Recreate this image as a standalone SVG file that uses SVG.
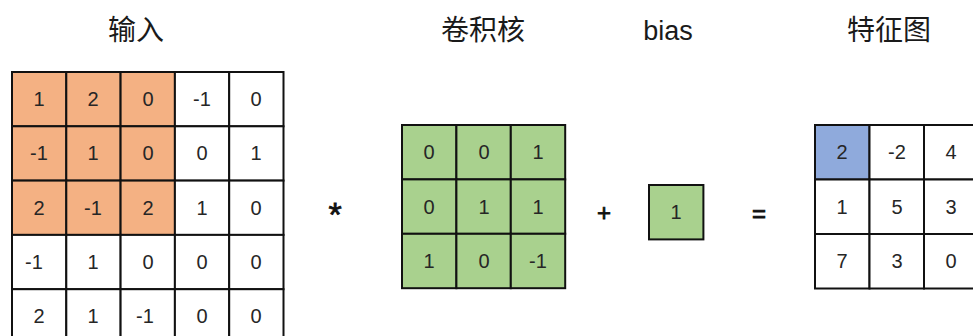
<svg xmlns="http://www.w3.org/2000/svg" width="973" height="336" viewBox="0 0 973 336">
  <style>
    .title { font-family: "Noto Sans CJK SC", "Liberation Sans", sans-serif; font-size: 28px; fill: #1a1a1a; text-anchor: middle; }
    .latin { font-family: "Liberation Sans", sans-serif; font-size: 27px; fill: #1a1a1a; text-anchor: middle; }
    .cell { stroke: #111; stroke-width: 2; }
    .w { fill: #ffffff; }
    .o { fill: #F4B183; }
    .g { fill: #A9D18E; }
    .b { fill: #8FAADC; }
    .num { font-family: "Liberation Sans", sans-serif; font-size: 20px; fill: #262626; text-anchor: middle; dominant-baseline: central; }
    .op { font-family: "Liberation Sans", sans-serif; fill: #111; stroke: #111; stroke-width: 0.8; text-anchor: middle; }
  </style>
  <rect width="973" height="336" fill="#ffffff"/>

  <!-- headings -->
  <text class="title" x="136" y="40">输入</text>
  <text class="title" x="483" y="40">卷积核</text>
  <text class="latin" x="668" y="40">bias</text>
  <text class="title" x="889" y="40">特征图</text>

  <!-- input matrix 5x5, top-left 3x3 window highlighted -->
  <g id="input">
    <rect class="cell o" x="12" y="72" width="54.3" height="54.3"/>
    <rect class="cell o" x="66.3" y="72" width="54.3" height="54.3"/>
    <rect class="cell o" x="120.6" y="72" width="54.3" height="54.3"/>
    <rect class="cell w" x="174.9" y="72" width="54.3" height="54.3"/>
    <rect class="cell w" x="229.2" y="72" width="54.3" height="54.3"/>
    <rect class="cell o" x="12" y="126.3" width="54.3" height="54.3"/>
    <rect class="cell o" x="66.3" y="126.3" width="54.3" height="54.3"/>
    <rect class="cell o" x="120.6" y="126.3" width="54.3" height="54.3"/>
    <rect class="cell w" x="174.9" y="126.3" width="54.3" height="54.3"/>
    <rect class="cell w" x="229.2" y="126.3" width="54.3" height="54.3"/>
    <rect class="cell o" x="12" y="180.6" width="54.3" height="54.3"/>
    <rect class="cell o" x="66.3" y="180.6" width="54.3" height="54.3"/>
    <rect class="cell o" x="120.6" y="180.6" width="54.3" height="54.3"/>
    <rect class="cell w" x="174.9" y="180.6" width="54.3" height="54.3"/>
    <rect class="cell w" x="229.2" y="180.6" width="54.3" height="54.3"/>
    <rect class="cell w" x="12" y="234.9" width="54.3" height="54.3"/>
    <rect class="cell w" x="66.3" y="234.9" width="54.3" height="54.3"/>
    <rect class="cell w" x="120.6" y="234.9" width="54.3" height="54.3"/>
    <rect class="cell w" x="174.9" y="234.9" width="54.3" height="54.3"/>
    <rect class="cell w" x="229.2" y="234.9" width="54.3" height="54.3"/>
    <rect class="cell w" x="12" y="289.2" width="54.3" height="54.3"/>
    <rect class="cell w" x="66.3" y="289.2" width="54.3" height="54.3"/>
    <rect class="cell w" x="120.6" y="289.2" width="54.3" height="54.3"/>
    <rect class="cell w" x="174.9" y="289.2" width="54.3" height="54.3"/>
    <rect class="cell w" x="229.2" y="289.2" width="54.3" height="54.3"/>

    <text class="num" x="39" y="99">1</text>
    <text class="num" x="93" y="99">2</text>
    <text class="num" x="148" y="99">0</text>
    <text class="num" x="202" y="99">-1</text>
    <text class="num" x="256" y="99">0</text>
    <text class="num" x="39" y="153">-1</text>
    <text class="num" x="93" y="153">1</text>
    <text class="num" x="148" y="153">0</text>
    <text class="num" x="202" y="153">0</text>
    <text class="num" x="256" y="153">1</text>
    <text class="num" x="39" y="208">2</text>
    <text class="num" x="93" y="208">-1</text>
    <text class="num" x="148" y="208">2</text>
    <text class="num" x="202" y="208">1</text>
    <text class="num" x="256" y="208">0</text>
    <text class="num" x="34" y="262">-1</text>
    <text class="num" x="93" y="262">1</text>
    <text class="num" x="148" y="262">0</text>
    <text class="num" x="202" y="262">0</text>
    <text class="num" x="256" y="262">0</text>
    <text class="num" x="39" y="316">2</text>
    <text class="num" x="93" y="316">1</text>
    <text class="num" x="145" y="316">-1</text>
    <text class="num" x="202" y="316">0</text>
    <text class="num" x="256" y="316">0</text>
  </g>

  <!-- convolution kernel 3x3 -->
  <g id="kernel">
    <rect class="cell g" x="402" y="125" width="54.4" height="54.4"/>
    <rect class="cell g" x="456.4" y="125" width="54.4" height="54.4"/>
    <rect class="cell g" x="510.8" y="125" width="54.4" height="54.4"/>
    <rect class="cell g" x="402" y="179.4" width="54.4" height="54.4"/>
    <rect class="cell g" x="456.4" y="179.4" width="54.4" height="54.4"/>
    <rect class="cell g" x="510.8" y="179.4" width="54.4" height="54.4"/>
    <rect class="cell g" x="402" y="233.8" width="54.4" height="54.4"/>
    <rect class="cell g" x="456.4" y="233.8" width="54.4" height="54.4"/>
    <rect class="cell g" x="510.8" y="233.8" width="54.4" height="54.4"/>

    <text class="num" x="429" y="152">0</text>
    <text class="num" x="484" y="152">0</text>
    <text class="num" x="538" y="152">1</text>
    <text class="num" x="429" y="207">0</text>
    <text class="num" x="484" y="207">1</text>
    <text class="num" x="538" y="207">1</text>
    <text class="num" x="429" y="261">1</text>
    <text class="num" x="484" y="261">0</text>
    <text class="num" x="538" y="261">-1</text>
  </g>

  <!-- bias -->
  <g id="bias">
    <rect class="cell g" x="649" y="185" width="54.4" height="54.4"/>
    <text class="num" x="676" y="212">1</text>
  </g>

  <!-- feature map 3x3, first output highlighted -->
  <g id="feature">
    <rect class="cell b" x="815" y="125" width="54.5" height="54.5"/>
    <rect class="cell w" x="869.5" y="125" width="54.5" height="54.5"/>
    <rect class="cell w" x="924" y="125" width="54.5" height="54.5"/>
    <rect class="cell w" x="815" y="179.5" width="54.5" height="54.5"/>
    <rect class="cell w" x="869.5" y="179.5" width="54.5" height="54.5"/>
    <rect class="cell w" x="924" y="179.5" width="54.5" height="54.5"/>
    <rect class="cell w" x="815" y="234" width="54.5" height="54.5"/>
    <rect class="cell w" x="869.5" y="234" width="54.5" height="54.5"/>
    <rect class="cell w" x="924" y="234" width="54.5" height="54.5"/>

    <text class="num" x="842" y="152">2</text>
    <text class="num" x="897" y="152">-2</text>
    <text class="num" x="951" y="152">4</text>
    <text class="num" x="842" y="207">1</text>
    <text class="num" x="897" y="207">5</text>
    <text class="num" x="951" y="207">3</text>
    <text class="num" x="842" y="261">7</text>
    <text class="num" x="897" y="261">3</text>
    <text class="num" x="951" y="261">0</text>
  </g>

  <!-- operators: convolve, add, equals -->
  <g id="operators">
    <text class="op" x="335" y="226" font-size="34">*</text>
    <text class="op" x="604" y="221" font-size="24">+</text>
    <text class="op" x="759" y="222" font-size="24">=</text>
  </g>
</svg>
